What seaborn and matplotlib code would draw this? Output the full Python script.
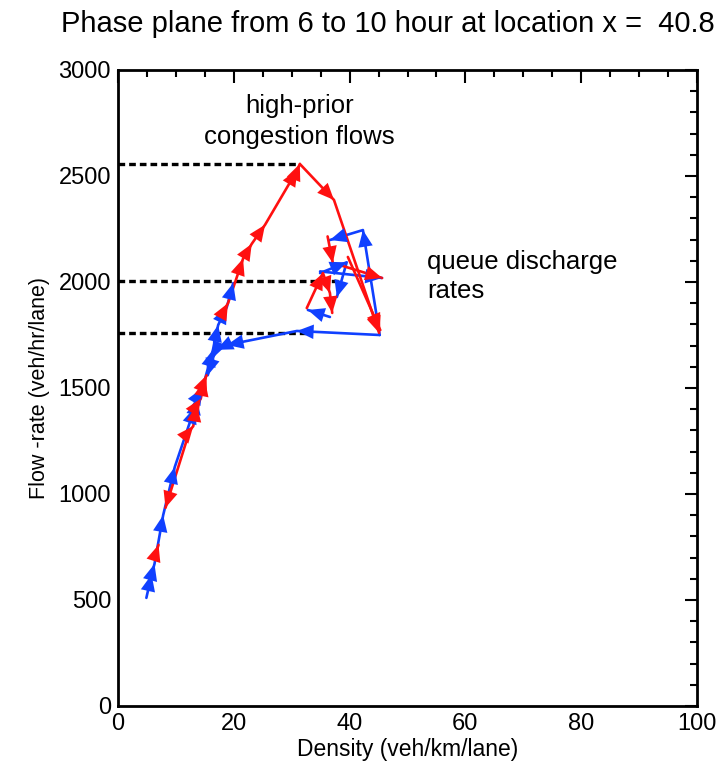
import numpy as np
import pandas as pd
import matplotlib
matplotlib.use("Agg")
import matplotlib.pyplot as plt
import seaborn as sns

# ---------------- data ----------------
# red strokes: (x density, y flow) vertices; arrowhead at each vertex after the first
red_stroke = [0, 0,
              1, 1,
              2, 2, 2, 2, 2, 2,
              3, 3, 3, 3, 3, 3, 3, 3, 3,
              4, 4, 4,
              5, 5, 5, 5,
              6, 6]
red_x = [6.3, 7.0,
         12.4, 8.2,
         12.4, 13.0, 13.6, 14.3, 15.0, 15.3,
         17.6, 19.0, 21.6, 23.1, 25.4, 31.0, 31.4, 37.3, 45.1,
         36.2, 37.1, 45.6,
         32.6, 35.4, 36.6, 37.0,
         39.7, 45.3]
red_y = [700, 760,
         1300, 935,
         1300, 1320, 1420, 1450, 1540, 1560,
         1830, 1900, 2110, 2180, 2270, 2530, 2557, 2387, 1760,
         2215, 2090, 2019,
         1877, 2042, 1948, 1854,
         2118, 1773]

blue_stroke = [0] * 12 + [1] * 6 + [2] * 3 + [3] * 3 + [4] * 2 + [5] * 2
blue_x = [4.9, 5.8, 6.3, 7.8, 9.8, 13.3, 13.6, 14.6, 16.4, 17.3, 18.8, 19.9,
          45.2, 30.9, 18.8, 17.0, 16.4, 15.5,
          45.2, 42.3, 36.6,
          34.9, 39.5, 37.8,
          34.9, 45.6,
          36.6, 32.8]
blue_y = [510, 620, 670, 900, 1127, 1410, 1453, 1500, 1680, 1797, 1882, 1995,
          1750, 1769, 1703, 1680, 1642, 1560,
          1750, 2245, 2198,
          2042, 2093, 1929,
          2050, 2019,
          1835, 1868]

ref_y = [2555, 2005, 1760]
ref_xend = [31.5, 38.0, 33.2]

x_ticks = [0, 20, 40, 60, 80, 100]
y_ticks = [0, 500, 1000, 1500, 2000, 2500, 3000]

title = "Phase plane from 6 to 10 hour at location x =  40.8"
xlabel = "Density (veh/km/lane)"
ylabel = "Flow -rate (veh/hr/lane)"

# ---------------- plot ----------------
sns.set_style("white")
plt.rcParams['font.family'] = ['Liberation Sans', 'DejaVu Sans']
plt.rcParams['text.color'] = 'black'
plt.rcParams['axes.labelcolor'] = 'black'

fig = plt.figure(figsize=(7.2, 7.64), dpi=100)
ax = fig.add_axes([118 / 720, 58 / 764, 579 / 720, 636 / 764])

RED = "#ff1010"
BLUE = "#1040ff"

for yy, xe in zip(ref_y, ref_xend):
    ax.plot([0, xe], [yy, yy], color="black", lw=2.4, ls=(0, (2.0, 1.2)), zorder=1)

red_df = pd.DataFrame({"x": red_x, "y": red_y, "s": red_stroke})
blue_df = pd.DataFrame({"x": blue_x, "y": blue_y, "s": blue_stroke})

for df, col in [(blue_df, BLUE), (red_df, RED)]:
    sns.lineplot(data=df, x="x", y="y", units="s", estimator=None, sort=False,
                 color=col, lw=1.9, ax=ax, zorder=3, legend=False)
    for _, g in df.groupby("s"):
        xs = g["x"].to_numpy()
        ys = g["y"].to_numpy()
        for i in range(1, len(xs)):
            ax.annotate("", xy=(xs[i], ys[i]), xytext=(xs[i - 1], ys[i - 1]),
                        arrowprops=dict(arrowstyle="-|>,head_length=0.6,head_width=0.26",
                                        mutation_scale=20, color=col, lw=0.01,
                                        shrinkA=0, shrinkB=0),
                        zorder=4)

ax.set_xlim(0, 100)
ax.set_ylim(0, 3000)
ax.set_xticks(x_ticks)
ax.set_yticks(y_ticks)
ax.set_xticks(np.arange(0, 101, 5), minor=True)
ax.set_yticks(np.arange(0, 3001, 100), minor=True)
ax.tick_params(which="both", direction="in", top=True, right=True,
               labelsize=17, width=1.5, colors="black")
ax.tick_params(which="major", length=9, pad=5)
ax.tick_params(which="minor", length=5)
for sp in ax.spines.values():
    sp.set_linewidth(2)
    sp.set_color("black")

ax.set_xlabel(xlabel, fontsize=16.5, labelpad=2)
ax.set_ylabel(ylabel, fontsize=15.5, labelpad=6)

ax.text(31.4, 2830, "high-prior", ha="center", va="center", fontsize=18.5)
ax.text(31.4, 2685, "congestion flows", ha="center", va="center", fontsize=18.5)
ax.text(53.4, 2094, "queue discharge", ha="left", va="center", fontsize=18.5)
ax.text(53.4, 1958, "rates", ha="left", va="center", fontsize=18.5)

fig.text(61 / 720, 1 - 24 / 764, title, ha="left", va="center", fontsize=21)

fig.savefig("out.png", dpi=100)
